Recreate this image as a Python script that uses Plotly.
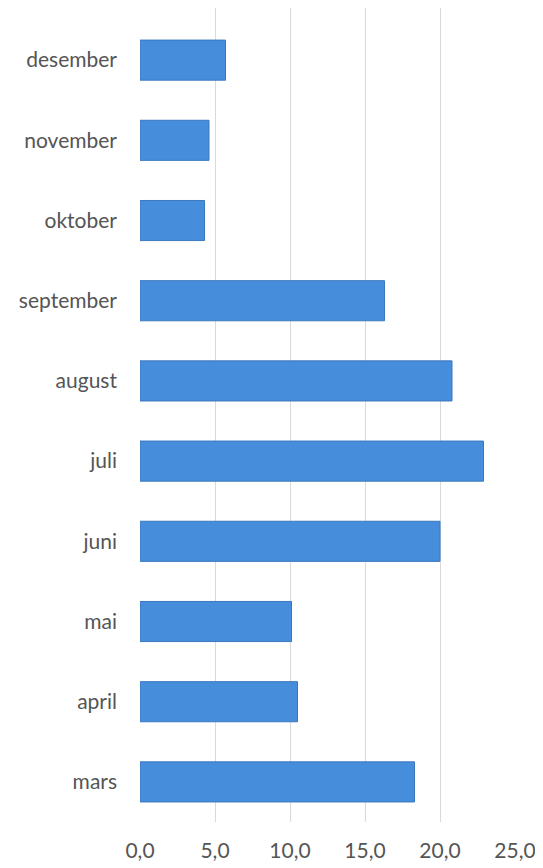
import plotly.graph_objects as go

months = ['mars', 'april', 'mai', 'juni', 'juli', 'august',
          'september', 'oktober', 'november', 'desember']
values = [18.3, 10.5, 10.1, 20.0, 22.9, 20.8, 16.3, 4.3, 4.6, 5.7]
x_ticks = [0, 5, 10, 15, 20, 25]
x_tick_labels = ['0,0', '5,0', '10,0', '15,0', '20,0', '25,0']

fig = go.Figure(go.Bar(
    x=values, y=months, orientation='h', width=0.5,
    marker=dict(color='#468ddb', line=dict(color='#3a78be', width=1)),
))

# the page adds an 8px body margin, so the figure is 8px smaller
fig.update_layout(
    width=535, height=860,
    margin=dict(l=132, r=28, t=0, b=46),
    paper_bgcolor='white', plot_bgcolor='white',
    font=dict(family='Lato, Open Sans, sans-serif', size=21, color='#555555'),
    showlegend=False,
    bargap=0.5,
)
fig.update_xaxes(
    range=[0, 25], tickvals=x_ticks, ticktext=x_tick_labels,
    showgrid=True, gridcolor='#d9d9d9', gridwidth=1, zeroline=False,
    showline=False, ticks='', ticklabelstandoff=14,
)
fig.update_yaxes(
    categoryorder='array', categoryarray=months, range=[-0.5, 9.65],
    showgrid=False, zeroline=False, showline=False, ticks='',
    ticklabelstandoff=22,
)

fig.write_html("out.html")
